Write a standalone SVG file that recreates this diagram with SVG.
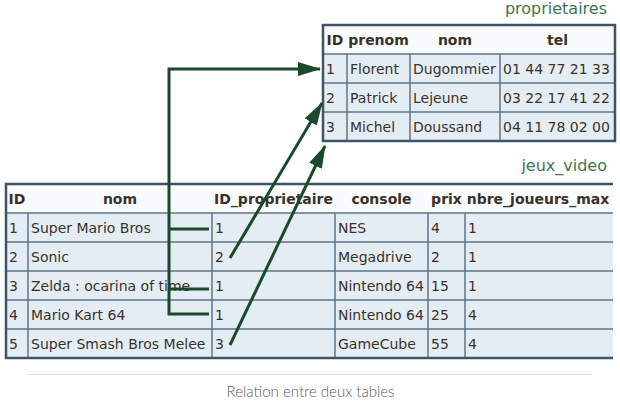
<svg xmlns="http://www.w3.org/2000/svg" width="620" height="401" viewBox="0 0 620 401">
<style>
.t{font-family:"DejaVu Sans",sans-serif;font-size:14px;fill:#3a3128}
.h{font-family:"DejaVu Sans",sans-serif;font-size:14px;font-weight:bold;fill:#3a3128;text-anchor:middle}
.lbl{font-family:"DejaVu Sans",sans-serif;font-size:16px;fill:#3f7650;text-anchor:end}
.grid{stroke:#5f7587;stroke-width:1.5;fill:none}
.outer{stroke:#3d5468;stroke-width:2.5;fill:none}
.hdr{fill:#fafbfc}
.row{fill:#e5edf4}
.cap{font-family:Lato,"Open Sans",sans-serif;font-size:15px;font-weight:300;fill:#5a5a5a;text-anchor:middle}
.con{stroke:#1a4a2a;stroke-width:3;fill:none}
</style>
<defs>
<marker id="ah" markerUnits="userSpaceOnUse" markerWidth="24" markerHeight="14" refX="22" refY="7" orient="auto">
<path d="M0,0 L23,7 L0,14 z" fill="#1a4a2a"/>
</marker>
</defs>
<rect width="620" height="401" fill="#ffffff"/>

<g id="proprietaires">
<text class="lbl" x="607" y="14">proprietaires</text>
<rect class="hdr" x="323" y="25" width="292" height="29"/>
<rect class="row" x="323" y="54" width="292" height="87"/>
<path class="grid" d="M323,54H615M323,83H615M323,112H615M347,54V141M410,54V141M500,54V141"/>
<rect class="outer" x="323" y="25" width="292" height="116"/>
<text class="h" x="335" y="45">ID</text>
<text class="h" x="378.5" y="45">prenom</text>
<text class="h" x="455" y="45">nom</text>
<text class="h" x="557.5" y="45">tel</text>
<text class="t" x="326" y="74">1</text>
<text class="t" x="350" y="74">Florent</text>
<text class="t" x="413" y="74">Dugommier</text>
<text class="t" x="503" y="74">01 44 77 21 33</text>
<text class="t" x="326" y="103">2</text>
<text class="t" x="350" y="103">Patrick</text>
<text class="t" x="413" y="103">Lejeune</text>
<text class="t" x="503" y="103">03 22 17 41 22</text>
<text class="t" x="326" y="132">3</text>
<text class="t" x="350" y="132">Michel</text>
<text class="t" x="413" y="132">Doussand</text>
<text class="t" x="503" y="132">04 11 78 02 00</text>
</g>

<g id="jeux_video">
<text class="lbl" x="607" y="171">jeux_video</text>
<rect class="hdr" x="6" y="184" width="607" height="29"/>
<rect class="row" x="6" y="213" width="607" height="145"/>
<path class="grid" d="M6,213H613M6,242H613M6,271H613M6,300H613M6,329H613M28,213V358M212,213V358M335,213V358M428,213V358M465,213V358"/>
<path class="outer" d="M613,184H6V358H613"/>
<text class="h" x="17" y="204">ID</text>
<text class="h" x="120" y="204">nom</text>
<text class="h" x="273.5" y="204">ID_proprietaire</text>
<text class="h" x="381.5" y="204">console</text>
<text class="h" x="446.5" y="204">prix</text>
<text class="h" x="538" y="204">nbre_joueurs_max</text>

<text class="t" x="9" y="233">1</text>
<text class="t" x="31" y="233">Super Mario Bros</text>
<text class="t" x="215" y="233">1</text>
<text class="t" x="338" y="233">NES</text>
<text class="t" x="431" y="233">4</text>
<text class="t" x="468" y="233">1</text>

<text class="t" x="9" y="262">2</text>
<text class="t" x="31" y="262">Sonic</text>
<text class="t" x="215" y="262">2</text>
<text class="t" x="338" y="262">Megadrive</text>
<text class="t" x="431" y="262">2</text>
<text class="t" x="468" y="262">1</text>

<text class="t" x="9" y="291">3</text>
<text class="t" x="31" y="291">Zelda : ocarina of time</text>
<text class="t" x="215" y="291">1</text>
<text class="t" x="338" y="291">Nintendo 64</text>
<text class="t" x="431" y="291">15</text>
<text class="t" x="468" y="291">1</text>

<text class="t" x="9" y="320">4</text>
<text class="t" x="31" y="320">Mario Kart 64</text>
<text class="t" x="215" y="320">1</text>
<text class="t" x="338" y="320">Nintendo 64</text>
<text class="t" x="431" y="320">25</text>
<text class="t" x="468" y="320">4</text>

<text class="t" x="9" y="349">5</text>
<text class="t" x="31" y="349">Super Smash Bros Melee</text>
<text class="t" x="215" y="349">3</text>
<text class="t" x="338" y="349">GameCube</text>
<text class="t" x="431" y="349">55</text>
<text class="t" x="468" y="349">4</text>
</g>

<g id="connectors">
<path class="con" d="M209,314H169V69H320" marker-end="url(#ah)"/>
<path class="con" d="M169,229H209"/>
<path class="con" d="M169,289H209"/>
<path class="con" d="M230,258L322,103" marker-end="url(#ah)"/>
<path class="con" d="M230,345L325,146" marker-end="url(#ah)"/>
</g>

<g id="caption">
<line x1="28" y1="374.5" x2="592" y2="374.5" stroke="#e0e0e0" stroke-width="1"/>
<text class="cap" x="310.5" y="397">Relation entre deux tables</text>
</g>
</svg>
